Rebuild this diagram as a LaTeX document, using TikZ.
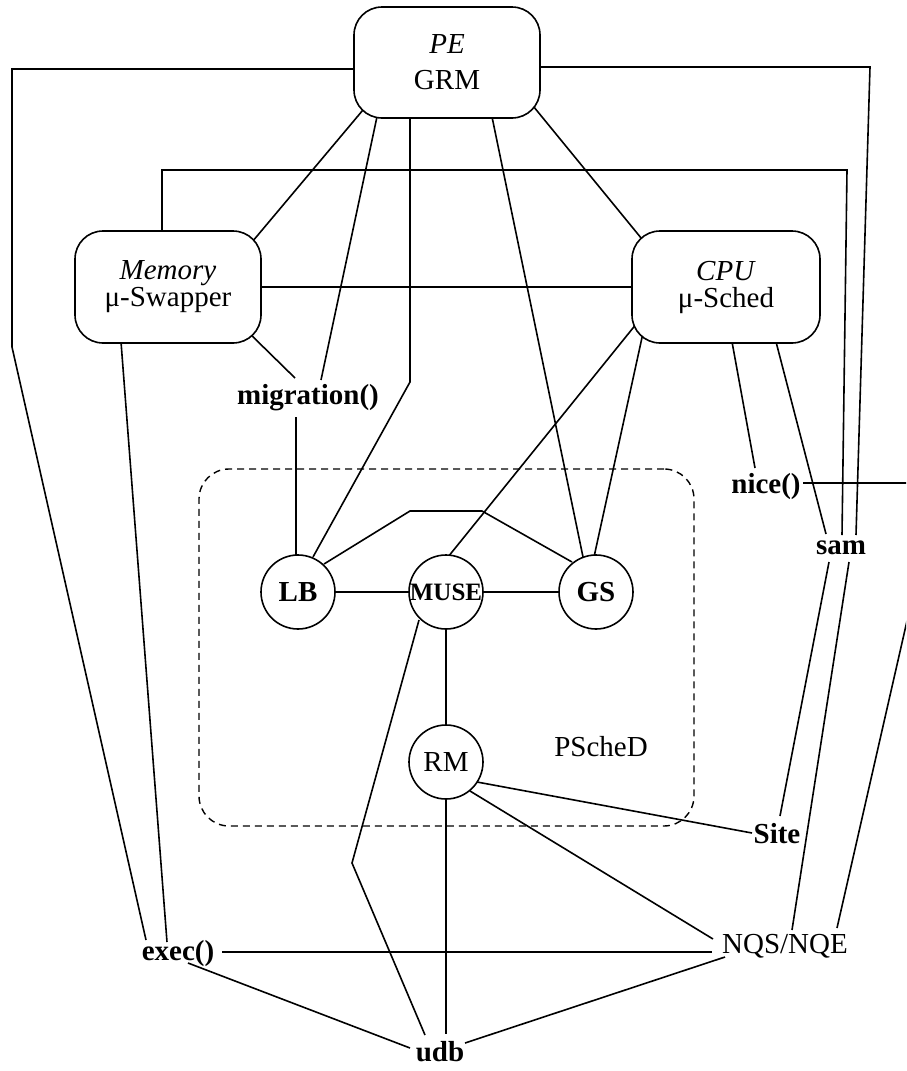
\documentclass[tikz,border=0pt]{standalone}
\usepackage{fontspec}
\setmainfont{Liberation Serif}
\usetikzlibrary{calc,backgrounds}
\begin{document}
\begin{tikzpicture}[x=1pt,y=-1pt,
  every node/.style={font=\fontsize{29}{34}\selectfont},
  conn/.style={line width=1.6pt},
  bigbox/.style={draw, line width=1.6pt, rounded corners=28pt, fill=white,
    minimum width=186pt, minimum height=112pt, align=center, inner sep=0pt},
  circ/.style={circle, draw, line width=1.6pt, fill=white, minimum size=74pt, inner sep=0pt},
  lbl/.style={inner sep=0pt},
  bfl/.style={inner sep=0pt, font=\fontsize{29}{34}\selectfont\bfseries},
  psbox/.style={draw, line width=1.4pt, dash pattern=on 7pt off 5pt, rounded corners=30pt,
    minimum width=495pt, minimum height=357pt, inner sep=0pt},
]
\useasboundingbox (0,0) rectangle (906,1071);

% boxes
\node[bigbox, minimum height=111pt, font=\fontsize{29}{36}\selectfont] (grm) at (447,62.5) {\textit{PE}\\GRM};
\node[bigbox, font=\fontsize{29}{27}\selectfont] (mem) at (168,287) {\textit{Memory}\\μ-Swapper};
\node[bigbox, minimum width=188pt, font=\fontsize{29}{27}\selectfont] (cpu) at (726,287) {\textit{CPU}\\μ-Sched};

% PScheD group
\node[psbox] (ps) at (446.5,647.5) {};
\node[lbl] (psl) at (601,747) {PScheD};
\node[circ, font=\fontsize{29}{34}\selectfont\bfseries] (lb) at (298,592) {LB};
\node[circ, font=\fontsize{25}{28}\selectfont\bfseries] (muse) at (446,592) {MUSE};
\node[circ, font=\fontsize{29}{34}\selectfont\bfseries] (gs) at (596,592) {GS};
\node[circ] (rm) at (446,762) {RM};

% text labels
\node[bfl] (mig) at (308,398) {migration()};
\node[bfl] (nice) at (766,487) {nice()};
\node[bfl] (sam) at (841,548) {sam};
\node[bfl] (site) at (777,834) {Site};
\node[lbl] (nqs) at (785,946) {NQS/NQE};
\node[bfl] (exec) at (178,954) {exec()};
\node[bfl] (udb) at (440,1052) {udb};

\begin{scope}[on background layer]
\fill[white] (0,0) rectangle (906,1071);
\begin{scope}[conn]
% from GRM
\draw ($(grm.west)+(2,6.5)$) -- (12,69) -- (12,347) -- ($(exec)+(-32,-14)$);
\draw ($(grm.east)+(-2,4.5)$) -- (870,67) -- ($(sam)+(15,-13)$);
\draw ($(grm)+(-79,41.5)$) -- ($(mem)+(79,-39)$);
\draw ($(grm)+(-69,49.5)$) -- ($(mig)+(13,-18)$);
\draw ($(grm)+(-37,49.5)$) -- (410,382) -- ($(lb)+(15,-35)$);
\draw ($(grm)+(44,49.5)$) -- ($(gs)+(-13,-35)$);
\draw ($(grm)+(82,38.5)$) -- ($(cpu)+(-80,-43)$);
% from Memory
\draw ($(mem.north)+(-6,2)$) -- (162,170) -- (847,170) -- ($(sam)+(1,-13)$);
\draw (mem.east) -- (cpu.west);
\draw ($(mem)+(77,42)$) -- ($(mig)+(-13,-20)$);
\draw ($(mem.south)+(-47,-2)$) -- ($(exec)+(-11,-12)$);
% migration
\draw ($(mig)+(-12,19)$) -- ($(lb.north)+(-2,2)$);
% from CPU
\draw ($(cpu)+(-89,36)$) -- ($(muse)+(2,-35)$);
\draw ($(cpu)+(-83,46)$) -- ($(gs)+(-2,-35)$);
\draw ($(cpu.south)+(6,-2)$) -- ($(nice)+(-11,-19)$);
\draw ($(cpu.south)+(50,-2)$) -- ($(sam)+(-15,-14)$);
% nice -> NQS/NQE (runs off the right edge)
\begin{scope}
\clip (0,0) rectangle (906,1071);
\draw ($(nice)+(37,-4)$) -- (930,483) -- (930,520) -- ($(nqs)+(52,-18)$);
\end{scope}
% PScheD internals
\draw (lb) -- (muse);
\draw (muse) -- (gs);
\draw ($(lb)+(26,-28)$) -- (410,511) -- (482,511) -- ($(gs)+(-24,-30)$);
\draw (muse) -- (rm);
\draw ($(muse)+(-27,28)$) -- (352,863) -- ($(udb)+(-15,-17)$);
% RM
\draw ($(rm)+(31,20)$) -- ($(site)+(-25,-1)$);
\draw ($(rm)+(24,29)$) -- ($(nqs)+(-72,-7)$);
\draw (rm) -- ($(udb)+(6,-18)$);
% sam
\draw ($(sam)+(-12,14)$) -- ($(site)+(3,-18)$);
\draw ($(sam)+(8,14)$) -- ($(nqs)+(7,-16)$);
% bottom
\draw ($(exec)+(44,-2)$) -- ($(nqs)+(-73,6)$);
\draw ($(exec)+(10,9)$) -- ($(udb)+(-30,-4)$);
\draw ($(nqs)+(-60,11)$) -- ($(udb)+(25,-9)$);
\end{scope}
\end{scope}
\end{tikzpicture}
\end{document}
